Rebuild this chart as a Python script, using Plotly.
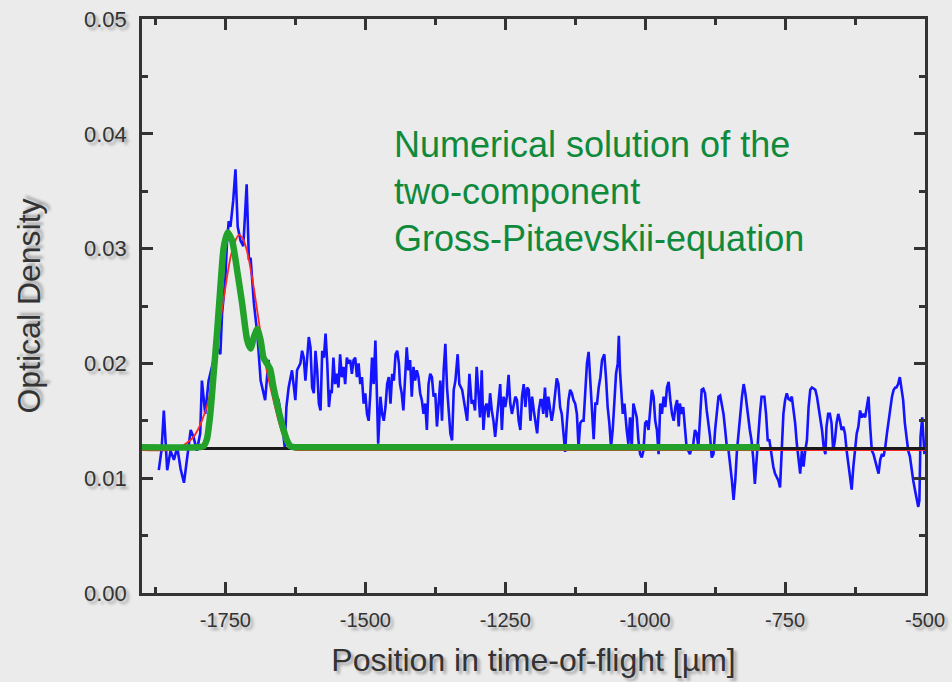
import plotly.graph_objects as go

# ---------------- data ----------------
pos_blue = [
    -1869, -1864, -1860, -1854, -1848, -1842, -1836, -1830, -1824, -1818, -1812, -1807, -1801, -1795, -1792,
    -1786, -1780, -1774, -1765, -1759, -1756, -1750, -1747, -1744, -1741, -1736, -1732, -1728, -1723, -1718,
    -1712, -1708, -1705, -1699, -1693, -1687, -1682, -1679, -1673, -1667, -1661, -1655, -1649, -1644,
    -1641, -1637, -1631, -1625, -1622, -1616, -1613, -1610, -1607, -1604, -1601, -1598, -1595, -1592, -1589,
    -1586, -1583, -1580, -1577, -1574, -1571, -1568, -1565, -1562, -1560, -1557, -1554, -1551, -1548, -1545,
    -1542, -1539, -1536, -1533, -1530, -1527, -1524, -1521, -1518, -1515, -1512, -1509, -1506, -1503, -1500,
    -1497, -1494, -1491, -1488, -1485, -1482, -1479, -1477, -1473, -1470, -1467, -1464, -1461, -1458, -1455,
    -1452, -1449, -1446, -1443, -1440, -1438, -1435, -1432, -1429, -1426, -1423, -1420, -1417, -1414, -1411,
    -1408, -1405, -1402, -1399, -1396, -1393, -1390, -1387, -1384, -1381, -1378, -1375, -1372, -1369, -1366,
    -1363, -1360, -1357, -1354,
    -1348, -1345, -1342, -1339, -1335, -1332, -1327, -1323, -1318, -1314, -1310, -1307, -1304, -1301, -1298,
    -1295, -1292, -1289, -1286, -1283, -1280, -1277, -1274, -1271, -1268, -1265, -1262, -1259, -1256, -1253,
    -1250, -1247, -1244, -1241, -1238, -1235, -1232, -1229, -1226, -1223, -1220, -1217, -1214, -1211, -1208,
    -1205, -1202, -1199, -1196, -1193, -1190, -1187, -1185, -1182, -1179, -1176, -1173, -1170, -1167, -1164,
    -1161, -1158, -1155, -1152, -1149, -1146, -1143, -1140, -1137, -1134, -1131, -1128, -1125, -1122, -1119,
    -1116, -1113, -1110, -1107, -1104, -1101, -1098, -1095, -1092, -1089, -1086, -1083,
    -1080, -1077, -1073, -1070, -1067, -1064, -1061, -1058, -1055, -1052, -1049, -1047, -1045, -1042, -1040,
    -1037, -1035, -1033, -1030, -1027, -1024, -1021, -1018, -1015, -1012, -1009, -1006, -1003, -1000, -997,
    -994, -991, -988, -985, -982, -979, -976, -973, -970, -967, -964, -961, -958, -955, -952,
    -949, -946, -943, -940, -938, -935, -932, -929, -926, -923, -920, -917, -914, -911, -908,
    -905, -902, -899, -896, -893, -890, -887, -884, -881, -878, -875, -872, -869, -866, -863,
    -860, -857, -854, -851, -848, -845, -842, -839, -836, -833, -830, -827, -824, -821, -818,
    -815, -813, -810, -807, -804, -801, -798,
    -795, -792, -787, -784, -781, -778, -774, -771, -768, -765, -762, -759, -756, -753, -750,
    -747, -744, -741, -738, -735, -732, -729, -726, -723, -720, -717, -714, -711, -708, -705,
    -702, -699, -696, -693, -690, -687, -684, -681, -678, -676, -673, -670, -667, -664, -661,
    -658, -655, -652, -649, -646, -643, -640, -637, -634, -631, -628, -625, -622, -619, -616,
    -613, -610, -607, -604, -601, -598, -595, -592, -589, -586, -583, -580, -577, -574, -571,
    -568, -565, -562, -559, -556, -553, -551, -548, -545, -542, -539, -536, -533, -530, -527,
    -524, -521, -518, -515, -512, -510, -508, -505, -503, -501,
]
od_blue = [
    0.0107, 0.0125, 0.0159, 0.0107, 0.0124, 0.0116, 0.0127, 0.0108, 0.0096, 0.0121, 0.0142, 0.0136, 0.0124, 0.0139, 0.0185,
    0.0156, 0.0185, 0.0197, 0.0214, 0.0208, 0.0243, 0.0275, 0.0307, 0.0324, 0.0319, 0.0342, 0.0369, 0.0319, 0.0307, 0.0302,
    0.0356, 0.0290, 0.0292, 0.0252, 0.0226, 0.0185, 0.0174, 0.0168, 0.0203, 0.0179, 0.0174, 0.0168, 0.0150, 0.0127,
    0.0162, 0.0179, 0.0194, 0.0168, 0.0194, 0.0200, 0.0211, 0.0205, 0.0185, 0.0203, 0.0223, 0.0214, 0.0179, 0.0174, 0.0211,
    0.0194, 0.0165, 0.0159, 0.0211, 0.0205, 0.0226, 0.0200, 0.0162, 0.0177, 0.0174, 0.0205, 0.0182, 0.0191, 0.0179, 0.0208,
    0.0188, 0.0197, 0.0182, 0.0205, 0.0200, 0.0203, 0.0191, 0.0203, 0.0205, 0.0188, 0.0200, 0.0182, 0.0188, 0.0165, 0.0174,
    0.0156, 0.0150, 0.0174, 0.0205, 0.0182, 0.0220, 0.0168, 0.0130, 0.0171, 0.0156, 0.0150, 0.0162, 0.0182, 0.0188, 0.0165,
    0.0191, 0.0185, 0.0208, 0.0211, 0.0200, 0.0182, 0.0174, 0.0159, 0.0185, 0.0214, 0.0194, 0.0203, 0.0171, 0.0197, 0.0185,
    0.0194, 0.0188, 0.0174, 0.0168, 0.0156, 0.0165, 0.0142, 0.0182, 0.0191, 0.0188, 0.0171, 0.0174, 0.0145, 0.0165, 0.0185,
    0.0150, 0.0194, 0.0217, 0.0179,
    0.0139, 0.0133, 0.0177, 0.0185, 0.0208, 0.0182, 0.0177, 0.0165, 0.0150, 0.0191, 0.0165, 0.0168, 0.0159, 0.0197, 0.0171,
    0.0153, 0.0194, 0.0142, 0.0162, 0.0165, 0.0153, 0.0174, 0.0159, 0.0150, 0.0136, 0.0150, 0.0165, 0.0182, 0.0142, 0.0171,
    0.0162, 0.0171, 0.0190, 0.0165, 0.0156, 0.0165, 0.0171, 0.0168, 0.0150, 0.0142, 0.0171, 0.0182, 0.0162, 0.0179, 0.0177,
    0.0150, 0.0171, 0.0159, 0.0150, 0.0139, 0.0159, 0.0168, 0.0168, 0.0156, 0.0179, 0.0153, 0.0171, 0.0162, 0.0150, 0.0159,
    0.0171, 0.0187, 0.0182, 0.0162, 0.0156, 0.0142, 0.0123, 0.0148, 0.0168, 0.0177, 0.0174, 0.0168, 0.0165, 0.0156, 0.0127,
    0.0148, 0.0150, 0.0150, 0.0179, 0.0200, 0.0210, 0.0185, 0.0162, 0.0134, 0.0165, 0.0165, 0.0179,
    0.0188, 0.0203, 0.0208, 0.0188, 0.0162, 0.0148, 0.0127, 0.0142, 0.0165, 0.0191, 0.0200, 0.0224, 0.0194, 0.0171, 0.0156,
    0.0165, 0.0148, 0.0142, 0.0130, 0.0153, 0.0127, 0.0165, 0.0159, 0.0153, 0.0133, 0.0121, 0.0118, 0.0124, 0.0148, 0.0150,
    0.0142, 0.0162, 0.0177, 0.0171, 0.0150, 0.0142, 0.0121, 0.0165, 0.0156, 0.0171, 0.0162, 0.0179, 0.0184, 0.0168, 0.0156,
    0.0150, 0.0162, 0.0168, 0.0145, 0.0165, 0.0156, 0.0162, 0.0145, 0.0127, 0.0124, 0.0121, 0.0127, 0.0130, 0.0142, 0.0139,
    0.0127, 0.0150, 0.0177, 0.0178, 0.0174, 0.0159, 0.0148, 0.0136, 0.0118, 0.0121, 0.0142, 0.0156, 0.0171, 0.0172, 0.0165,
    0.0156, 0.0142, 0.0127, 0.0124, 0.0113, 0.0098, 0.0081, 0.0098, 0.0124, 0.0139, 0.0159, 0.0171, 0.0182, 0.0174, 0.0162,
    0.0148, 0.0142, 0.0133, 0.0118, 0.0095, 0.0115, 0.0142,
    0.0156, 0.0171, 0.0171, 0.0156, 0.0133, 0.0133, 0.0119, 0.0110, 0.0104, 0.0101, 0.0098, 0.0092, 0.0124, 0.0156, 0.0168,
    0.0174, 0.0169, 0.0168, 0.0171, 0.0159, 0.0148, 0.0130, 0.0119, 0.0104, 0.0124, 0.0110, 0.0124, 0.0133, 0.0162, 0.0177,
    0.0179, 0.0178, 0.0177, 0.0171, 0.0162, 0.0150, 0.0142, 0.0127, 0.0121, 0.0145, 0.0156, 0.0156, 0.0148, 0.0124, 0.0133,
    0.0148, 0.0156, 0.0150, 0.0142, 0.0145, 0.0139, 0.0124, 0.0113, 0.0098, 0.0090, 0.0110, 0.0124, 0.0139, 0.0145, 0.0159,
    0.0153, 0.0156, 0.0153, 0.0162, 0.0171, 0.0145, 0.0124, 0.0121, 0.0116, 0.0110, 0.0104, 0.0116, 0.0121, 0.0119, 0.0127,
    0.0139, 0.0150, 0.0162, 0.0171, 0.0177, 0.0179, 0.0179, 0.0182, 0.0188, 0.0179, 0.0168, 0.0148, 0.0133, 0.0124, 0.0119,
    0.0107, 0.0098, 0.0090, 0.0081, 0.0075, 0.0081, 0.0136, 0.0153, 0.0133, 0.0121,
]

# fit of the experimental profile (red)
pos_fit = [-1899, -1840, -1824, -1807, -1792, -1780, -1768, -1759, -1750, -1741, -1732, -1726,
           -1718, -1710, -1700, -1687, -1677, -1667, -1655, -1646, -1637, -1628, -1615, -500]
od_fit = [0.01245, 0.0125, 0.0129, 0.0136, 0.0150, 0.0168, 0.0203, 0.0237, 0.0266, 0.0292, 0.0307, 0.0312,
          0.0308, 0.0295, 0.0268, 0.0226, 0.0196, 0.0174, 0.0150, 0.0136, 0.0128, 0.0125, 0.01245, 0.01245]

# numerical two-component GPE solution (green)
pos_gpe = [-1899, -1800, -1789, -1783, -1777, -1771, -1765, -1759, -1753, -1746, -1738, -1729, -1720,
           -1711, -1705, -1699, -1693, -1687, -1682, -1676, -1670, -1664, -1655, -1646, -1640, -1634,
           -1626, -1600, -795]
od_gpe = [0.0127, 0.0127, 0.0128, 0.0134, 0.0156, 0.0191, 0.0226, 0.0266, 0.0301, 0.0314, 0.0307, 0.0281, 0.0252,
          0.0220, 0.0213, 0.0223, 0.0230, 0.0220, 0.0205, 0.0200, 0.0195, 0.0179, 0.0159, 0.0142, 0.0133, 0.0128,
          0.0127, 0.0127, 0.0127]

# background level (black)
pos_base = [-1899, -500]
od_base = [0.01258, 0.01258]

x_tickvals = [-1750, -1500, -1250, -1000, -750, -500]
x_ticktext = ["-1750", "-1500", "-1250", "-1000", "-750", "-500"]
x_minor = [-1875, -1625, -1375, -1125, -875, -625]
y_tickvals = [0.00, 0.01, 0.02, 0.03, 0.04, 0.05]
y_ticktext = ["0.00", "0.01", "0.02", "0.03", "0.04", "0.05"]
y_minor = [0.005, 0.015, 0.025, 0.035, 0.045]

note_text = "Numerical solution of the<br>two-component<br>Gross-Pitaevskii-equation"
note_pos = (-1452, 0.0350)

# ---------------- figure ----------------
AX = "#333333"
SHADOW = "3px 3px 3px rgba(0,0,0,0.30)"
FONT = "Liberation Sans, Arial, Helvetica, sans-serif"

fig = go.Figure()
fig.add_trace(go.Scatter(x=pos_blue, y=od_blue, mode="lines",
                         line=dict(color="#1414ff", width=2.6), hoverinfo="skip"))
fig.add_trace(go.Scatter(x=pos_fit, y=od_fit, mode="lines",
                         line=dict(color="#ff2626", width=1.8, shape="spline", smoothing=0.8),
                         hoverinfo="skip"))
fig.add_trace(go.Scatter(x=pos_base, y=od_base, mode="lines",
                         line=dict(color="#1a1a1a", width=3), hoverinfo="skip"))
fig.add_trace(go.Scatter(x=pos_gpe, y=od_gpe, mode="lines",
                         line=dict(color="#22a12b", width=6.5, shape="spline", smoothing=0.6),
                         hoverinfo="skip"))

fig.add_annotation(x=note_pos[0], y=note_pos[1], xref="x", yref="y", text=note_text,
                   showarrow=False, xanchor="left", yanchor="middle", align="left",
                   font=dict(family=FONT, size=36, color="#0f8a3c"))

fig.update_layout(
    width=952, height=682,
    margin=dict(l=142, r=27, t=19, b=89),
    paper_bgcolor="#ebebeb", plot_bgcolor="#ebebeb",
    showlegend=False,
    font=dict(family=FONT, color=AX),
)
fig.update_xaxes(
    range=[-1899, -500], tickmode="array", tickvals=x_tickvals, ticktext=x_ticktext,
    ticks="inside", ticklen=11, tickwidth=2.5, tickcolor=AX,
    minor=dict(tickmode="array", tickvals=x_minor, ticks="inside", ticklen=6, tickwidth=2.5, tickcolor=AX),
    showline=True, linecolor=AX, linewidth=2.5, mirror="ticks",
    showgrid=False, zeroline=False, ticklabelstandoff=7, automargin=False,
    tickfont=dict(size=20, color=AX, shadow=SHADOW),
    title=dict(text="Position in time-of-flight [µm]", standoff=19,
               font=dict(size=32, color=AX, shadow=SHADOW)),
)
fig.update_yaxes(
    range=[0, 0.05], tickmode="array", tickvals=y_tickvals, ticktext=y_ticktext,
    ticks="inside", ticklen=11, tickwidth=2.5, tickcolor=AX,
    minor=dict(tickmode="array", tickvals=y_minor, ticks="inside", ticklen=6, tickwidth=2.5, tickcolor=AX),
    showline=True, linecolor=AX, linewidth=2.5, mirror="ticks",
    showgrid=False, zeroline=False, ticklabelstandoff=8, automargin=False,
    tickfont=dict(size=22, color=AX, shadow=SHADOW),
    title=dict(text="Optical Density", standoff=34,
               font=dict(size=32, color=AX, shadow=SHADOW)),
)

fig.write_html("out.html")
